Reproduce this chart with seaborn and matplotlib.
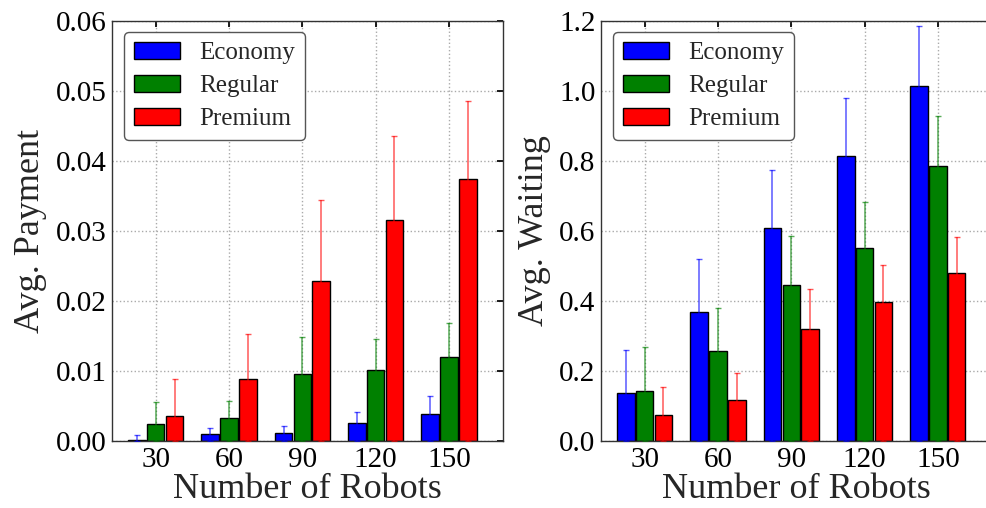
import matplotlib
matplotlib.use("Agg")
import matplotlib.pyplot as plt
import pandas as pd
import seaborn as sns
import numpy as np

# data
robots = [30, 60, 90, 120, 150]
classes = ["Economy", "Regular", "Premium"]
colors = ["#0000ff", "#008000", "#ff0000"]

pay_economy = [0.0002, 0.0010, 0.0012, 0.0026, 0.0039]
pay_regular = [0.0024, 0.0033, 0.0095, 0.0101, 0.0120]
pay_premium = [0.0035, 0.0089, 0.0229, 0.0315, 0.0374]
pay_err_economy = [0.0006, 0.0008, 0.0010, 0.0015, 0.0025]
pay_err_regular = [0.0031, 0.0024, 0.0053, 0.0044, 0.0048]
pay_err_premium = [0.0053, 0.0064, 0.0115, 0.0121, 0.0112]

wait_economy = [0.136, 0.369, 0.609, 0.813, 1.013]
wait_regular = [0.143, 0.256, 0.445, 0.550, 0.785]
wait_premium = [0.073, 0.116, 0.319, 0.396, 0.479]
wait_err_economy = [0.124, 0.150, 0.166, 0.168, 0.174]
wait_err_regular = [0.126, 0.123, 0.142, 0.132, 0.143]
wait_err_premium = [0.082, 0.079, 0.115, 0.107, 0.105]


def make_df(vals, errs):
    rows = []
    for c, v, e in zip(classes, vals, errs):
        for r, vv, ee in zip(robots, v, e):
            rows.append({"robots": r, "cls": c, "value": vv, "err": ee})
    return pd.DataFrame(rows)


pay_df = make_df([pay_economy, pay_regular, pay_premium],
                 [pay_err_economy, pay_err_regular, pay_err_premium])
wait_df = make_df([wait_economy, wait_regular, wait_premium],
                  [wait_err_economy, wait_err_regular, wait_err_premium])

sns.set_theme(style="white")
plt.rcParams["font.family"] = ["Liberation Serif", "DejaVu Serif"]


def panel(ax, df, ylabel, ylim, yticks, fmt):
    sns.barplot(data=df, x="robots", y="value", hue="cls", hue_order=classes,
                palette=colors, saturation=1, width=0.77, gap=0.07,
                edgecolor="black", linewidth=1, errorbar=None, ax=ax, zorder=2)
    # error bars from 0 up to mean + err, only the upper cap is visible
    for cont, c in zip(ax.containers, classes):
        sub = df[df["cls"] == c]
        xs = [p.get_x() + p.get_width() / 2 for p in cont.patches]
        hs = [p.get_height() for p in cont.patches]
        col = colors[classes.index(c)]
        ax.errorbar(xs, hs, yerr=[hs, sub["err"].values], fmt="none",
                    ecolor=col, elinewidth=1.1, capsize=2, capthick=1,
                    alpha=0.65, zorder=3)
    ax.set_xlim(-0.596, 4.738)
    ax.set_ylim(*ylim)
    ax.set_yticks(yticks)
    ax.set_yticklabels([fmt.format(t) for t in yticks])
    ax.grid(True, color="#aaaaaa", linestyle=":", linewidth=1)
    ax.set_axisbelow(True)
    ax.tick_params(direction="in", top=True, right=True, length=4,
                   labelsize=21, pad=4, colors="black")
    ax.set_xlabel("Number of Robots", fontsize=26, labelpad=0)
    ax.set_ylabel(ylabel, fontsize=26, labelpad=6)
    for s in ax.spines.values():
        s.set_color("#333333")
        s.set_linewidth(1)
    leg = ax.legend(loc="upper left", bbox_to_anchor=(0.031, 0.974),
                    borderaxespad=0, fontsize=18, handlelength=1.85,
                    handleheight=0.7, handletextpad=0.75, labelspacing=0.42,
                    borderpad=0.4, fancybox=True, framealpha=1)
    leg.get_frame().set_edgecolor("#555555")
    leg.get_frame().set_linewidth(1)


fig = plt.figure(figsize=(9.86, 5.08), dpi=100)
ax1 = fig.add_axes([0.1136, 0.1319, 0.3966, 0.8268])
ax2 = fig.add_axes([0.6095, 0.1319, 0.3966, 0.8268])

panel(ax1, pay_df, "Avg. Payment", (0, 0.06),
      [0.0, 0.01, 0.02, 0.03, 0.04, 0.05, 0.06], "{:.2f}")
panel(ax2, wait_df, "Avg. Waiting", (0, 1.2),
      [0.0, 0.2, 0.4, 0.6, 0.8, 1.0, 1.2], "{:.1f}")

fig.savefig("out.png", dpi=100)
